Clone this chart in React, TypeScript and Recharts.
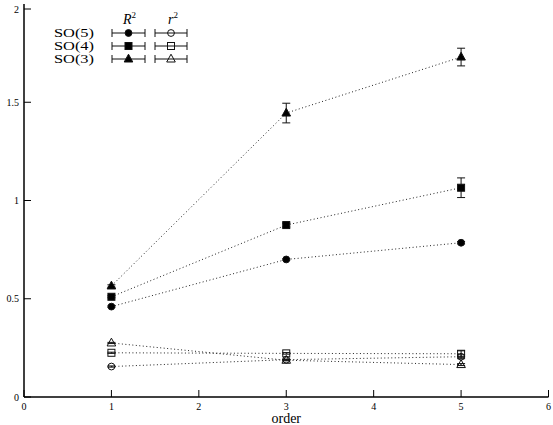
import { LineChart, Line, XAxis, YAxis, ErrorBar } from 'recharts';

const FONT = '"Liberation Serif", "DejaVu Serif", serif';

const orders = [1, 3, 5];
const xTicks = [0, 1, 2, 3, 4, 5, 6];
const yTicks = [0, 0.5, 1, 1.5, 2];

// R^2 values (filled markers)
const bigSO5 = [0.46, 0.7, 0.785];
const bigSO4 = [0.51, 0.875, 1.065];
const bigSO3 = [0.565, 1.445, 1.73];
const bigSO5Err = [0.004, 0.004, 0.006];
const bigSO4Err = [0.005, 0.01, 0.05];
const bigSO3Err = [0.006, 0.05, 0.045];

// r^2 values (open markers)
const smallSO5 = [0.155, 0.19, 0.205];
const smallSO4 = [0.225, 0.222, 0.22];
const smallSO3 = [0.275, 0.187, 0.165];
const smallSO5Err = [0.003, 0.003, 0.01];
const smallSO4Err = [0.003, 0.004, 0.015];
const smallSO3Err = [0.003, 0.003, 0.005];

const rows = orders.map((o, i) => ({
  order: o,
  bigSO5: bigSO5[i], bigSO5Err: bigSO5Err[i],
  bigSO4: bigSO4[i], bigSO4Err: bigSO4Err[i],
  bigSO3: bigSO3[i], bigSO3Err: bigSO3Err[i],
  smallSO5: smallSO5[i], smallSO5Err: smallSO5Err[i],
  smallSO4: smallSO4[i], smallSO4Err: smallSO4Err[i],
  smallSO3: smallSO3[i], smallSO3Err: smallSO3Err[i],
}));

type Shape = 'circle' | 'square' | 'triangle';

const series: { key: string; shape: Shape; filled: boolean }[] = [
  { key: 'bigSO5', shape: 'circle', filled: true },
  { key: 'bigSO4', shape: 'square', filled: true },
  { key: 'bigSO3', shape: 'triangle', filled: true },
  { key: 'smallSO5', shape: 'circle', filled: false },
  { key: 'smallSO4', shape: 'square', filled: false },
  { key: 'smallSO3', shape: 'triangle', filled: false },
];

const TICK_LEN = 7;

function Marker({ cx, cy, shape, filled }: { cx: number; cy: number; shape: Shape; filled: boolean }) {
  const fill = filled ? '#000' : 'none';
  const common = { fill, stroke: '#111', strokeWidth: 1 };
  if (shape === 'circle') return <circle cx={cx} cy={cy} r={3.4} {...common} />;
  if (shape === 'square') return <rect x={cx - 3.5} y={cy - 3.5} width={7} height={7} {...common} />;
  return (
    <polygon
      points={`${cx},${cy - 4.8} ${cx - 4.3},${cy + 3} ${cx + 4.3},${cy + 3}`}
      {...common}
    />
  );
}

// ticks point inward on every side, like gnuplot
const BottomTick = (p: any) => (
  <g>
    <line x1={p.x} y1={p.y} x2={p.x} y2={p.y - TICK_LEN} stroke="#000" />
    <text x={p.x} y={p.y + 13} textAnchor="middle" fontSize={10} fill="#000" fontFamily={FONT}>
      {p.payload.value}
    </text>
  </g>
);
const LeftTick = (p: any) => (
  <g>
    <line x1={p.x} y1={p.y} x2={p.x + TICK_LEN} y2={p.y} stroke="#000" />
    <text x={p.x - 5} y={p.y + 3.5} textAnchor="end" fontSize={10} fill="#000" fontFamily={FONT}>
      {p.payload.value}
    </text>
  </g>
);
const TopTick = (p: any) => (
  <line x1={p.x} y1={p.y} x2={p.x} y2={p.y + TICK_LEN} stroke="#000" />
);
const RightTick = (p: any) => (
  <line x1={p.x} y1={p.y} x2={p.x - TICK_LEN} y2={p.y} stroke="#000" />
);

function LegendRow({ y, label, shape }: { y: number; label: string; shape: Shape }) {
  const bar = (x1: number, x2: number, filled: boolean) => (
    <g>
      <line x1={x1} y1={y} x2={x2} y2={y} stroke="#111" strokeWidth={1} />
      <line x1={x1} y1={y - 4} x2={x1} y2={y + 4} stroke="#111" strokeWidth={1} />
      <line x1={x2} y1={y - 4} x2={x2} y2={y + 4} stroke="#111" strokeWidth={1} />
      <Marker cx={(x1 + x2) / 2} cy={y} shape={shape} filled={filled} />
    </g>
  );
  return (
    <g>
      <text x={54} y={y + 4.2} fontSize={12} textLength={40} lengthAdjust="spacingAndGlyphs" fill="#000">
        {label}
      </text>
      {bar(112, 145, true)}
      {bar(155, 187, false)}
    </g>
  );
}

const axisLine = { stroke: '#000', strokeWidth: 1.5 };

export default function App() {
  return (
    <div style={{ position: 'absolute', left: 0, top: 0, width: 553, height: 425, background: '#fff' }}>
      <LineChart
        width={553}
        height={425}
        data={rows}
        margin={{ top: 4, right: 4.5, bottom: 0, left: 0 }}
        style={{ fontFamily: FONT }}
      >
        <XAxis
          xAxisId="bottom"
          dataKey="order"
          type="number"
          domain={[0, 6]}
          ticks={xTicks}
          height={28}
          axisLine={axisLine}
          tickLine={false}
          tickSize={0}
          tickMargin={0}
          tick={BottomTick}
          label={{ value: 'order', position: 'insideBottom', offset: 2, fill: '#000', fontSize: 14, fontFamily: FONT }}
        />
        <XAxis
          xAxisId="top"
          orientation="top"
          dataKey="order"
          type="number"
          domain={[0, 6]}
          ticks={xTicks}
          height={0}
          axisLine={axisLine}
          tickLine={false}
          tickSize={0}
          tickMargin={0}
          tick={TopTick}
        />
        <YAxis
          yAxisId="left"
          type="number"
          domain={[0, 2]}
          ticks={yTicks}
          width={24}
          axisLine={axisLine}
          tickLine={false}
          tickSize={0}
          tickMargin={0}
          tick={LeftTick}
        />
        <YAxis
          yAxisId="right"
          orientation="right"
          type="number"
          domain={[0, 2]}
          ticks={yTicks}
          width={0}
          axisLine={axisLine}
          tickLine={false}
          tickSize={0}
          tickMargin={0}
          tick={RightTick}
        />
        {series.map((s) => (
          <Line
            key={s.key}
            xAxisId="bottom"
            yAxisId="left"
            dataKey={s.key}
            stroke="#222"
            strokeWidth={1}
            strokeDasharray="1 2.5"
            isAnimationActive={false}
            activeDot={false}
            dot={(p: any) => (
              <Marker key={`${s.key}-${p.index}`} cx={p.cx} cy={p.cy} shape={s.shape} filled={s.filled} />
            )}
          >
            <ErrorBar dataKey={`${s.key}Err`} width={4} stroke="#111" strokeWidth={1} direction="y" />
          </Line>
        ))}
      </LineChart>
      <svg
        width={553}
        height={425}
        style={{ position: 'absolute', left: 0, top: 0, pointerEvents: 'none', fontFamily: FONT }}
      >
        <text x={123} y={24} fontSize={14} fill="#000">
          <tspan fontStyle="italic">R</tspan>
          <tspan dy={-6} fontSize={9}>2</tspan>
        </text>
        <text x={168} y={24} fontSize={14} fill="#000">
          <tspan fontStyle="italic">r</tspan>
          <tspan dy={-6} fontSize={9}>2</tspan>
        </text>
        <LegendRow y={33} label="SO(5)" shape="circle" />
        <LegendRow y={46} label="SO(4)" shape="square" />
        <LegendRow y={59} label="SO(3)" shape="triangle" />
      </svg>
    </div>
  );
}
